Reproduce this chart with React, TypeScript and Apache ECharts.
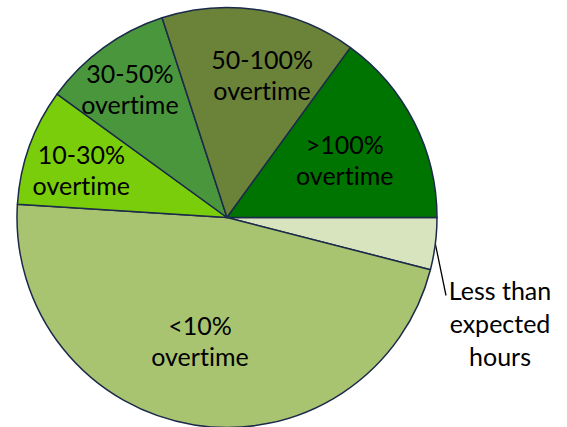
import React, { useEffect, useRef } from "react";
import * as echarts from "echarts";

// Slices in clockwise order starting at 3 o'clock
const categories = [
  "Less than\nexpected\nhours",
  "<10%\novertime",
  "10-30%\novertime",
  "30-50%\novertime",
  "50-100%\novertime",
  ">100%\novertime",
];
const shares = [4, 47, 9, 10, 15, 15];
const colors = ["#d8e4be", "#a9c470", "#7acd0a", "#4a963c", "#6b8239", "#007400"];

// label placement (polar: angle in degrees, fraction of radius)
const labelAngle = [-7, 257.6, 161.9, 126.9, 76.2, 26.4];
const labelRadius = [0, 0.6, 0.73, 0.77, 0.7, 0.626];

const CX = 227;
const CY = 217.5;
const R = 210;

export default function App() {
  const ref = useRef<HTMLDivElement>(null);
  useEffect(() => {
    if (!ref.current) return;
    const chart = echarts.init(ref.current, undefined, { renderer: "svg" });
    const total = shares.reduce((a, b) => a + b, 0);
    const midOf = (i: number) => {
      let start = 0;
      for (let k = 0; k < i; k++) start -= (shares[k] / total) * 360;
      return start - ((shares[i] / total) * 360) / 2;
    };
    chart.setOption({
      animation: false,
      series: [
        {
          type: "pie",
          center: [CX, CY],
          radius: [0, R],
          startAngle: 0,
          clockwise: true,
          avoidLabelOverlap: false,
          itemStyle: { borderColor: "#1b2a4a", borderWidth: 1.5 },
          label: {
            show: true,
            position: "inside",
            color: "#000",
            fontFamily: "Lato",
            fontSize: 25,
            lineHeight: 31,
            align: "center",
          },
          labelLine: { show: false },
          emphasis: { disabled: true },
          labelLayout: (p: any) => {
            const i = p.dataIndex;
            if (i === 0) {
              const a = (midOf(0) * Math.PI) / 180;
              const sx = CX + R * Math.cos(a);
              const sy = CY - R * Math.sin(a);
              const ex = CX + R + 9;
              const ey = CY + 78;
              return {
                x: CX + R + 63,
                y: CY + 105,
                align: "center",
                verticalAlign: "middle",
                labelLinePoints: [
                  [sx, sy],
                  [(sx + ex) / 2, (sy + ey) / 2],
                  [ex, ey],
                ],
              };
            }
            const a = (labelAngle[i] * Math.PI) / 180;
            return {
              x: CX + labelRadius[i] * R * Math.cos(a),
              y: CY - labelRadius[i] * R * Math.sin(a),
              align: "center",
              verticalAlign: "middle",
            };
          },
          data: categories.map((name, i) => ({
            name,
            value: shares[i],
            itemStyle: { color: colors[i] },
            label:
              i === 0
                ? { position: "outside", lineHeight: 33 }
                : undefined,
            labelLine:
              i === 0
                ? { show: true, length: 10, length2: 10, lineStyle: { color: "#000", width: 1.3 } }
                : undefined,
          })),
        },
      ],
    });
    return () => chart.dispose();
  }, []);
  return (
    <div
      ref={ref}
      style={{
        position: "fixed",
        left: 0,
        top: 0,
        width: 567,
        height: 427,
        background: "#fff",
        fontVariantLigatures: "none",
      }}
    />
  );
}
